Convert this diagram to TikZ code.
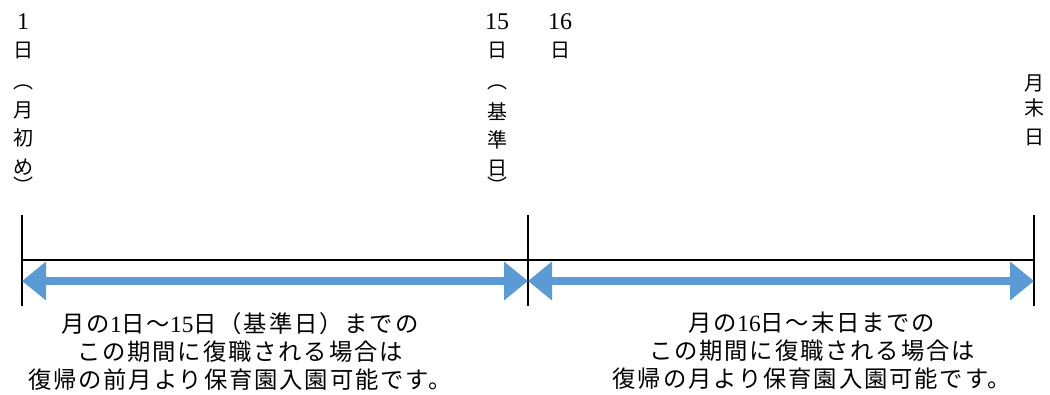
\documentclass[tikz,border=0pt]{standalone}
\usepackage{fontspec}
\setmainfont{Noto Sans CJK JP}
\newfontfamily\numfont{Liberation Serif}
\newcommand\dg[1]{{\numfont #1}}
\newcommand\bigdg[1]{{\numfont\fontsize{18}{18}\selectfont #1}}
\usetikzlibrary{arrows.meta}
\definecolor{arrowblue}{HTML}{5B9BD5}
\begin{document}
\begin{tikzpicture}[x=0.75pt,y=-0.75pt,
  tick/.style={line width=1.5pt, draw=black},
  axisline/.style={line width=1.5pt, draw=black},
  span/.style={draw=arrowblue, line width=6pt,
    {Triangle[length=18pt,width=28pt]}-{Triangle[length=18pt,width=28pt]}},
  vchar/.style={font=\fontsize{15}{15}\selectfont, inner sep=0pt, anchor=center},
  caption/.style={font=\fontsize{17.5}{21}\selectfont\addfontfeature{LetterSpace=8}, align=center, inner sep=0pt}]
\useasboundingbox (0,0) rectangle (1050,394);

% ticks
\coordinate (t1a) at (22,215);  \coordinate (t1b) at (22,306);
\coordinate (t2a) at (528,215); \coordinate (t2b) at (528,306);
\coordinate (t3a) at (1034,215);\coordinate (t3b) at (1034,306);
\draw[tick] (t1a) -- (t1b);
\draw[tick] (t2a) -- (t2b);
\draw[tick] (t3a) -- (t3b);

% axis line
\coordinate (ax1) at (22,260); \coordinate (ax3) at (1034,260);
\draw[axisline] (ax1) -- (ax3);

% blue spans
\coordinate (s1) at (22,281); \coordinate (s2) at (528,281); \coordinate (s3) at (1034,281);
\draw[span] (s1) -- (s2);
\draw[span] (s2) -- (s3);

% vertical labels
\foreach \c/\y [count=\i] in {\bigdg{1}/22, 日/50, ︵/87, 月/110, 初/138, め/167, ︶/185}
  \node[vchar] (L\i) at (23,\y) {\c};
\foreach \c/\y [count=\i] in {\bigdg{15}/22, 日/50, ︵/87, 基/112, 準/140, 日/168, ︶/185}
  \node[vchar] (M\i) at (497,\y) {\c};
\foreach \c/\y [count=\i] in {\bigdg{16}/22, 日/50}
  \node[vchar] (N\i) at (560,\y) {\c};
\foreach \c/\y [count=\i] in {月/83, 末/108, 日/137}
  \node[vchar] (R\i) at (1034,\y) {\c};

% captions
\node[caption] (capL) at (240,351) {月の\dg{1}日～\dg{15}日（基準日）までの\\この期間に復職される場合は\\復帰の前月より保育園入園可能です。};
\node[caption] (capR) at (812,351) {月の\dg{16}日～末日までの\\この期間に復職される場合は\\復帰の月より保育園入園可能です。};
\end{tikzpicture}
\end{document}
